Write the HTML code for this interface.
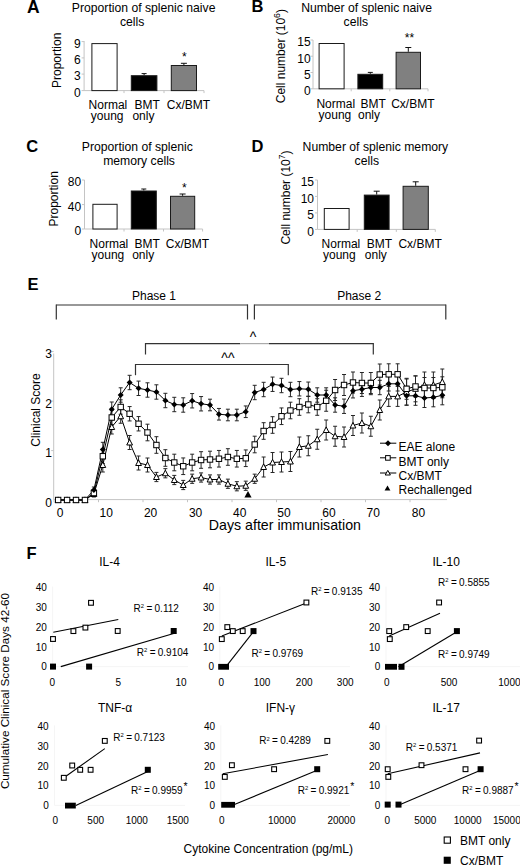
<!DOCTYPE html>
<html><head><meta charset="utf-8"><style>
html,body{margin:0;padding:0;background:#fff;width:520px;height:865px;overflow:hidden}
svg{display:block;font-family:"Liberation Sans", sans-serif}
</style></head><body>
<svg width="520" height="865" viewBox="0 0 520 865">
<rect width="520" height="865" fill="#fff"/>
<text x="27.0" y="12.6" font-size="17.5" text-anchor="start" font-weight="bold" fill="#000" >A</text>
<text x="251.6" y="12.2" font-size="16.5" text-anchor="start" font-weight="bold" fill="#000" >B</text>
<text x="26.2" y="152.4" font-size="16.5" text-anchor="start" font-weight="bold" fill="#000" >C</text>
<text x="251.6" y="152.3" font-size="16.5" text-anchor="start" font-weight="bold" fill="#000" >D</text>
<text x="27.4" y="289.6" font-size="16.5" text-anchor="start" font-weight="bold" fill="#000" >E</text>
<text x="26.5" y="559.4" font-size="16.5" text-anchor="start" font-weight="bold" fill="#000" >F</text>
<text x="71.8" y="12.2" font-size="12.2" text-anchor="start" font-weight="normal" fill="#000" >Proportion of splenic naive</text>
<text x="120.0" y="26.2" font-size="12.2" text-anchor="start" font-weight="normal" fill="#000" >cells</text>
<text transform="translate(61.2,60.3) rotate(-90)" font-size="12" text-anchor="middle">Proportion</text>
<line x1="84.1" y1="41.0" x2="84.1" y2="90.6" stroke="#c4c4c4" stroke-width="1"/>
<line x1="84.1" y1="90.6" x2="204.0" y2="90.6" stroke="#c4c4c4" stroke-width="1"/>
<line x1="81.6" y1="41.6" x2="84.1" y2="41.6" stroke="#c4c4c4" stroke-width="1"/>
<text x="80.6" y="47.9" font-size="12" text-anchor="end" font-weight="normal" fill="#000" >9</text>
<line x1="81.6" y1="57.9" x2="84.1" y2="57.9" stroke="#c4c4c4" stroke-width="1"/>
<text x="80.6" y="64.2" font-size="12" text-anchor="end" font-weight="normal" fill="#000" >6</text>
<line x1="81.6" y1="74.1" x2="84.1" y2="74.1" stroke="#c4c4c4" stroke-width="1"/>
<text x="80.6" y="80.39999999999999" font-size="12" text-anchor="end" font-weight="normal" fill="#000" >3</text>
<line x1="81.6" y1="90.6" x2="84.1" y2="90.6" stroke="#c4c4c4" stroke-width="1"/>
<text x="80.6" y="96.89999999999999" font-size="12" text-anchor="end" font-weight="normal" fill="#000" >0</text>
<rect x="91.9" y="43.6" width="25.19999999999999" height="46.99999999999999" fill="#fff" stroke="#1a1a1a" stroke-width="1"/>
<line x1="144.10000000000002" y1="73.6" x2="144.10000000000002" y2="75.2" stroke="#111" stroke-width="1"/>
<line x1="141.60000000000002" y1="73.6" x2="146.60000000000002" y2="73.6" stroke="#111" stroke-width="1"/>
<rect x="131.3" y="75.7" width="25.599999999999994" height="14.899999999999991" fill="#000" stroke="#1a1a1a" stroke-width="1"/>
<line x1="183.9" y1="63.3" x2="183.9" y2="65.0" stroke="#111" stroke-width="1"/>
<line x1="180.9" y1="63.3" x2="186.9" y2="63.3" stroke="#111" stroke-width="1"/>
<rect x="171.3" y="65.5" width="25.19999999999999" height="25.099999999999994" fill="#808080" stroke="#1a1a1a" stroke-width="1"/>
<text x="88.6" y="109.3" font-size="12" text-anchor="start" font-weight="normal" fill="#000" >Normal</text>
<text x="90.8" y="120.3" font-size="12" text-anchor="start" font-weight="normal" fill="#000" >young</text>
<text x="134.6" y="109.3" font-size="12" text-anchor="start" font-weight="normal" fill="#000" >BMT</text>
<text x="132.4" y="120.3" font-size="12" text-anchor="start" font-weight="normal" fill="#000" >only</text>
<text x="166.8" y="109.3" font-size="12" text-anchor="start" font-weight="normal" fill="#000" >Cx/BMT</text>
<text x="184.3" y="60.5" font-size="12" text-anchor="middle" font-weight="normal" fill="#000" >*</text>
<text x="301.2" y="11.8" font-size="12.2" text-anchor="start" font-weight="normal" fill="#000" >Number of splenic naive</text>
<text x="343.6" y="25.6" font-size="12.2" text-anchor="start" font-weight="normal" fill="#000" >cells</text>
<text transform="translate(285.0,56.2) rotate(-90)" font-size="12" text-anchor="middle">Cell number (10<tspan font-size="8.6" dy="-4.6">6</tspan><tspan dy="4.6">)</tspan></text>
<line x1="313.0" y1="40.0" x2="313.0" y2="88.8" stroke="#c4c4c4" stroke-width="1"/>
<line x1="313.0" y1="88.8" x2="428.0" y2="88.8" stroke="#c4c4c4" stroke-width="1"/>
<line x1="310.5" y1="40.0" x2="313.0" y2="40.0" stroke="#c4c4c4" stroke-width="1"/>
<text x="310.6" y="46.3" font-size="12" text-anchor="end" font-weight="normal" fill="#000" >15</text>
<line x1="310.5" y1="56.2" x2="313.0" y2="56.2" stroke="#c4c4c4" stroke-width="1"/>
<text x="310.6" y="62.5" font-size="12" text-anchor="end" font-weight="normal" fill="#000" >10</text>
<line x1="310.5" y1="72.5" x2="313.0" y2="72.5" stroke="#c4c4c4" stroke-width="1"/>
<text x="310.6" y="78.8" font-size="12" text-anchor="end" font-weight="normal" fill="#000" >5</text>
<line x1="310.5" y1="88.8" x2="313.0" y2="88.8" stroke="#c4c4c4" stroke-width="1"/>
<text x="310.6" y="95.1" font-size="12" text-anchor="end" font-weight="normal" fill="#000" >0</text>
<rect x="319.1" y="43.5" width="25.0" height="45.3" fill="#fff" stroke="#1a1a1a" stroke-width="1"/>
<line x1="370.29999999999995" y1="72.4" x2="370.29999999999995" y2="73.8" stroke="#111" stroke-width="1"/>
<line x1="367.79999999999995" y1="72.4" x2="372.79999999999995" y2="72.4" stroke="#111" stroke-width="1"/>
<rect x="357.9" y="74.3" width="24.80000000000001" height="14.5" fill="#000" stroke="#1a1a1a" stroke-width="1"/>
<line x1="408.3" y1="47.5" x2="408.3" y2="51.8" stroke="#111" stroke-width="1"/>
<line x1="405.3" y1="47.5" x2="411.3" y2="47.5" stroke="#111" stroke-width="1"/>
<rect x="396.1" y="52.3" width="24.399999999999977" height="36.5" fill="#808080" stroke="#1a1a1a" stroke-width="1"/>
<text x="316.4" y="107.8" font-size="12" text-anchor="start" font-weight="normal" fill="#000" >Normal</text>
<text x="318.6" y="118.8" font-size="12" text-anchor="start" font-weight="normal" fill="#000" >young</text>
<text x="360.4" y="107.8" font-size="12" text-anchor="start" font-weight="normal" fill="#000" >BMT</text>
<text x="358.0" y="118.8" font-size="12" text-anchor="start" font-weight="normal" fill="#000" >only</text>
<text x="391.2" y="107.8" font-size="12" text-anchor="start" font-weight="normal" fill="#000" >Cx/BMT</text>
<text x="409.4" y="42.0" font-size="12" text-anchor="middle" font-weight="normal" fill="#000" >**</text>
<text x="81.8" y="151.0" font-size="12.2" text-anchor="start" font-weight="normal" fill="#000" >Proportion of splenic</text>
<text x="103.2" y="165.0" font-size="12.2" text-anchor="start" font-weight="normal" fill="#000" >memory cells</text>
<text transform="translate(57.8,198.8) rotate(-90)" font-size="12" text-anchor="middle">Proportion</text>
<line x1="84.5" y1="180.0" x2="84.5" y2="229.0" stroke="#c4c4c4" stroke-width="1"/>
<line x1="84.5" y1="229.0" x2="202.6" y2="229.0" stroke="#c4c4c4" stroke-width="1"/>
<line x1="82.0" y1="180.0" x2="84.5" y2="180.0" stroke="#c4c4c4" stroke-width="1"/>
<text x="81.2" y="186.3" font-size="12" text-anchor="end" font-weight="normal" fill="#000" >80</text>
<line x1="82.0" y1="204.6" x2="84.5" y2="204.6" stroke="#c4c4c4" stroke-width="1"/>
<text x="81.2" y="210.9" font-size="12" text-anchor="end" font-weight="normal" fill="#000" >40</text>
<line x1="82.0" y1="229.0" x2="84.5" y2="229.0" stroke="#c4c4c4" stroke-width="1"/>
<text x="81.2" y="235.3" font-size="12" text-anchor="end" font-weight="normal" fill="#000" >0</text>
<rect x="92.9" y="204.3" width="24.19999999999999" height="24.69999999999999" fill="#fff" stroke="#1a1a1a" stroke-width="1"/>
<line x1="143.8" y1="189.0" x2="143.8" y2="190.5" stroke="#111" stroke-width="1"/>
<line x1="141.3" y1="189.0" x2="146.3" y2="189.0" stroke="#111" stroke-width="1"/>
<rect x="131.3" y="191.0" width="25.0" height="38.0" fill="#000" stroke="#1a1a1a" stroke-width="1"/>
<line x1="182.6" y1="194.0" x2="182.6" y2="195.8" stroke="#111" stroke-width="1"/>
<line x1="179.6" y1="194.0" x2="185.6" y2="194.0" stroke="#111" stroke-width="1"/>
<rect x="170.5" y="196.3" width="24.19999999999999" height="32.69999999999999" fill="#808080" stroke="#1a1a1a" stroke-width="1"/>
<text x="89.6" y="248.0" font-size="12" text-anchor="start" font-weight="normal" fill="#000" >Normal</text>
<text x="91.6" y="259.0" font-size="12" text-anchor="start" font-weight="normal" fill="#000" >young</text>
<text x="134.6" y="248.0" font-size="12" text-anchor="start" font-weight="normal" fill="#000" >BMT</text>
<text x="132.2" y="259.0" font-size="12" text-anchor="start" font-weight="normal" fill="#000" >only</text>
<text x="165.8" y="248.0" font-size="12" text-anchor="start" font-weight="normal" fill="#000" >Cx/BMT</text>
<text x="184.4" y="191.8" font-size="12" text-anchor="middle" font-weight="normal" fill="#000" >*</text>
<text x="302.6" y="151.0" font-size="12.2" text-anchor="start" font-weight="normal" fill="#000" >Number of splenic memory</text>
<text x="354.6" y="165.0" font-size="12.2" text-anchor="start" font-weight="normal" fill="#000" >cells</text>
<text transform="translate(290.0,197.5) rotate(-90)" font-size="12" text-anchor="middle">Cell number (10<tspan font-size="8.6" dy="-4.6">7</tspan><tspan dy="4.6">)</tspan></text>
<line x1="317.5" y1="180.0" x2="317.5" y2="229.4" stroke="#c4c4c4" stroke-width="1"/>
<line x1="317.5" y1="229.4" x2="435.3" y2="229.4" stroke="#c4c4c4" stroke-width="1"/>
<line x1="315.0" y1="180.0" x2="317.5" y2="180.0" stroke="#c4c4c4" stroke-width="1"/>
<text x="314.0" y="186.3" font-size="12" text-anchor="end" font-weight="normal" fill="#000" >15</text>
<line x1="315.0" y1="196.4" x2="317.5" y2="196.4" stroke="#c4c4c4" stroke-width="1"/>
<text x="314.0" y="202.70000000000002" font-size="12" text-anchor="end" font-weight="normal" fill="#000" >10</text>
<line x1="315.0" y1="212.9" x2="317.5" y2="212.9" stroke="#c4c4c4" stroke-width="1"/>
<text x="314.0" y="219.20000000000002" font-size="12" text-anchor="end" font-weight="normal" fill="#000" >5</text>
<line x1="315.0" y1="229.4" x2="317.5" y2="229.4" stroke="#c4c4c4" stroke-width="1"/>
<text x="314.0" y="235.70000000000002" font-size="12" text-anchor="end" font-weight="normal" fill="#000" >0</text>
<rect x="324.3" y="208.5" width="24.80000000000001" height="20.900000000000006" fill="#fff" stroke="#1a1a1a" stroke-width="1"/>
<line x1="376.70000000000005" y1="191.2" x2="376.70000000000005" y2="194.6" stroke="#111" stroke-width="1"/>
<line x1="373.70000000000005" y1="191.2" x2="379.70000000000005" y2="191.2" stroke="#111" stroke-width="1"/>
<rect x="364.3" y="195.1" width="24.80000000000001" height="34.30000000000001" fill="#000" stroke="#1a1a1a" stroke-width="1"/>
<line x1="415.70000000000005" y1="181.8" x2="415.70000000000005" y2="185.8" stroke="#111" stroke-width="1"/>
<line x1="412.70000000000005" y1="181.8" x2="418.70000000000005" y2="181.8" stroke="#111" stroke-width="1"/>
<rect x="403.1" y="186.3" width="25.19999999999999" height="43.099999999999994" fill="#808080" stroke="#1a1a1a" stroke-width="1"/>
<text x="321.6" y="248.0" font-size="12" text-anchor="start" font-weight="normal" fill="#000" >Normal</text>
<text x="323.0" y="258.8" font-size="12" text-anchor="start" font-weight="normal" fill="#000" >young</text>
<text x="366.8" y="248.0" font-size="12" text-anchor="start" font-weight="normal" fill="#000" >BMT</text>
<text x="364.8" y="258.8" font-size="12" text-anchor="start" font-weight="normal" fill="#000" >only</text>
<text x="398.4" y="248.0" font-size="12" text-anchor="start" font-weight="normal" fill="#000" >Cx/BMT</text>
<line x1="124.0" y1="90.6" x2="124.0" y2="93.1" stroke="#c4c4c4" stroke-width="1"/>
<line x1="164.0" y1="90.6" x2="164.0" y2="93.1" stroke="#c4c4c4" stroke-width="1"/>
<line x1="204.0" y1="90.6" x2="204.0" y2="93.1" stroke="#c4c4c4" stroke-width="1"/>
<line x1="351.2" y1="88.8" x2="351.2" y2="91.3" stroke="#c4c4c4" stroke-width="1"/>
<line x1="389.8" y1="88.8" x2="389.8" y2="91.3" stroke="#c4c4c4" stroke-width="1"/>
<line x1="428.0" y1="88.8" x2="428.0" y2="91.3" stroke="#c4c4c4" stroke-width="1"/>
<line x1="124.0" y1="229.0" x2="124.0" y2="231.5" stroke="#c4c4c4" stroke-width="1"/>
<line x1="163.5" y1="229.0" x2="163.5" y2="231.5" stroke="#c4c4c4" stroke-width="1"/>
<line x1="202.6" y1="229.0" x2="202.6" y2="231.5" stroke="#c4c4c4" stroke-width="1"/>
<line x1="357.2" y1="229.4" x2="357.2" y2="231.9" stroke="#c4c4c4" stroke-width="1"/>
<line x1="396.3" y1="229.4" x2="396.3" y2="231.9" stroke="#c4c4c4" stroke-width="1"/>
<line x1="435.3" y1="229.4" x2="435.3" y2="231.9" stroke="#c4c4c4" stroke-width="1"/>
<line x1="56.3" y1="305" x2="247.5" y2="305" stroke="#333" stroke-width="1.2"/>
<line x1="56.3" y1="304.4" x2="56.3" y2="319.5" stroke="#333" stroke-width="1.2"/>
<line x1="247.5" y1="304.4" x2="247.5" y2="319.5" stroke="#333" stroke-width="1.2"/>
<line x1="254.4" y1="305" x2="445.8" y2="305" stroke="#333" stroke-width="1.2"/>
<line x1="254.4" y1="304.4" x2="254.4" y2="319.5" stroke="#333" stroke-width="1.2"/>
<line x1="445.8" y1="304.4" x2="445.8" y2="319.5" stroke="#333" stroke-width="1.2"/>
<text x="132.0" y="300.0" font-size="12" text-anchor="start" font-weight="normal" fill="#000" >Phase 1</text>
<text x="337.2" y="300.0" font-size="12" text-anchor="start" font-weight="normal" fill="#000" >Phase 2</text>
<line x1="145.5" y1="343.6" x2="240.2" y2="343.6" stroke="#333" stroke-width="1.2"/>
<line x1="240.2" y1="343.6" x2="269.0" y2="343.6" stroke="#aaa" stroke-width="1.2"/>
<line x1="269.0" y1="343.6" x2="373.3" y2="343.6" stroke="#333" stroke-width="1.2"/>
<line x1="145.5" y1="343.0" x2="145.5" y2="354.5" stroke="#333" stroke-width="1.2"/>
<line x1="373.3" y1="343.0" x2="373.3" y2="354.5" stroke="#333" stroke-width="1.2"/>
<text x="253.0" y="342.0" font-size="14" text-anchor="middle" font-weight="normal" fill="#000" >^</text>
<line x1="135.5" y1="364.5" x2="288.3" y2="364.5" stroke="#333" stroke-width="1.2"/>
<line x1="135.5" y1="364.0" x2="135.5" y2="375.2" stroke="#333" stroke-width="1.2"/>
<line x1="288.3" y1="364.0" x2="288.3" y2="375.2" stroke="#333" stroke-width="1.2"/>
<text x="227.9" y="362.8" font-size="14" text-anchor="middle" font-weight="normal" fill="#000" >^^</text>
<line x1="53.7" y1="353.5" x2="53.7" y2="499.6" stroke="#c4c4c4" stroke-width="1"/>
<line x1="53.7" y1="499.6" x2="447.0" y2="499.6" stroke="#c4c4c4" stroke-width="1"/>
<line x1="54.0" y1="499.6" x2="54.0" y2="502.2" stroke="#c4c4c4" stroke-width="1"/>
<line x1="98.5" y1="499.6" x2="98.5" y2="502.2" stroke="#c4c4c4" stroke-width="1"/>
<line x1="143.0" y1="499.6" x2="143.0" y2="502.2" stroke="#c4c4c4" stroke-width="1"/>
<line x1="187.5" y1="499.6" x2="187.5" y2="502.2" stroke="#c4c4c4" stroke-width="1"/>
<line x1="232.0" y1="499.6" x2="232.0" y2="502.2" stroke="#c4c4c4" stroke-width="1"/>
<line x1="276.5" y1="499.6" x2="276.5" y2="502.2" stroke="#c4c4c4" stroke-width="1"/>
<line x1="321.0" y1="499.6" x2="321.0" y2="502.2" stroke="#c4c4c4" stroke-width="1"/>
<line x1="365.5" y1="499.6" x2="365.5" y2="502.2" stroke="#c4c4c4" stroke-width="1"/>
<line x1="410.0" y1="499.6" x2="410.0" y2="502.2" stroke="#c4c4c4" stroke-width="1"/>
<line x1="51.2" y1="351.6" x2="53.7" y2="351.6" stroke="#c4c4c4" stroke-width="1"/>
<line x1="51.2" y1="401.1" x2="53.7" y2="401.1" stroke="#c4c4c4" stroke-width="1"/>
<line x1="51.2" y1="450.6" x2="53.7" y2="450.6" stroke="#c4c4c4" stroke-width="1"/>
<text x="52.0" y="357.90000000000003" font-size="12" text-anchor="end" font-weight="normal" fill="#000" >3</text>
<text x="52.0" y="407.90000000000003" font-size="12" text-anchor="end" font-weight="normal" fill="#000" >2</text>
<text x="52.0" y="456.90000000000003" font-size="12" text-anchor="end" font-weight="normal" fill="#000" >1</text>
<text x="52.0" y="506.90000000000003" font-size="12" text-anchor="end" font-weight="normal" fill="#000" >0</text>
<text x="60.0" y="517.3" font-size="12" text-anchor="middle" font-weight="normal" fill="#000" >0</text>
<text x="106.3" y="517.3" font-size="12" text-anchor="middle" font-weight="normal" fill="#000" >10</text>
<text x="150.6" y="517.3" font-size="12" text-anchor="middle" font-weight="normal" fill="#000" >20</text>
<text x="195.6" y="517.3" font-size="12" text-anchor="middle" font-weight="normal" fill="#000" >30</text>
<text x="239.8" y="517.3" font-size="12" text-anchor="middle" font-weight="normal" fill="#000" >40</text>
<text x="284.0" y="517.3" font-size="12" text-anchor="middle" font-weight="normal" fill="#000" >50</text>
<text x="329.0" y="517.3" font-size="12" text-anchor="middle" font-weight="normal" fill="#000" >60</text>
<text x="373.2" y="517.3" font-size="12" text-anchor="middle" font-weight="normal" fill="#000" >70</text>
<text x="418.4" y="517.3" font-size="12" text-anchor="middle" font-weight="normal" fill="#000" >80</text>
<text transform="translate(40.0,410.0) rotate(-90)" font-size="12" text-anchor="middle">Clinical Score</text>
<text x="284.9" y="530.0" font-size="14.2" text-anchor="middle" font-weight="normal" fill="#000" >Days after immunisation</text>
<path d="M93.89,487.00V493.00M91.89,487.00h4M91.89,493.00h4M102.82,442.30V456.70M100.82,442.30h4M100.82,456.70h4M111.75,402.00V416.40M109.75,402.00h4M109.75,416.40h4M120.69,387.80V402.20M118.69,387.80h4M118.69,402.20h4M129.62,375.30V389.70M127.62,375.30h4M127.62,389.70h4M138.56,381.10V395.50M136.56,381.10h4M136.56,395.50h4M147.49,382.80V397.20M145.49,382.80h4M145.49,397.20h4M156.42,384.80V399.20M154.42,384.80h4M154.42,399.20h4M165.36,393.30V407.70M163.36,393.30h4M163.36,407.70h4M174.29,397.30V411.70M172.29,397.30h4M172.29,411.70h4M183.23,397.80V412.20M181.23,397.80h4M181.23,412.20h4M192.16,393.55V407.95M190.16,393.55h4M190.16,407.95h4M201.09,396.55V410.95M199.09,396.55h4M199.09,410.95h4M210.03,399.20V410.80M208.03,399.20h4M208.03,410.80h4M218.96,408.45V420.05M216.96,408.45h4M216.96,420.05h4M227.90,409.20V420.80M225.90,409.20h4M225.90,420.80h4M236.83,409.20V420.80M234.83,409.20h4M234.83,420.80h4M245.76,405.95V417.55M243.76,405.95h4M243.76,417.55h4M254.70,385.30V399.70M252.70,385.30h4M252.70,399.70h4M263.63,382.30V396.70M261.63,382.30h4M261.63,396.70h4M272.57,377.05V391.45M270.57,377.05h4M270.57,391.45h4M281.50,378.30V392.70M279.50,378.30h4M279.50,392.70h4M290.43,382.30V396.70M288.43,382.30h4M288.43,396.70h4M299.37,381.55V395.95M297.37,381.55h4M297.37,395.95h4M308.30,382.05V396.45M306.30,382.05h4M306.30,396.45h4M317.24,387.80V402.20M315.24,387.80h4M315.24,402.20h4M326.17,387.80V402.20M324.17,387.80h4M324.17,402.20h4M335.10,397.80V412.20M333.10,397.80h4M333.10,412.20h4M344.04,399.05V413.45M342.04,399.05h4M342.04,413.45h4M352.97,383.55V397.95M350.97,383.55h4M350.97,397.95h4M361.91,382.05V396.45M359.91,382.05h4M359.91,396.45h4M370.84,380.30V394.70M368.84,380.30h4M368.84,394.70h4M379.77,380.30V394.70M377.77,380.30h4M377.77,394.70h4M388.71,376.60V391.00M386.71,376.60h4M386.71,391.00h4M397.64,376.60V391.00M395.64,376.60h4M395.64,391.00h4M406.58,386.30V405.30M404.58,386.30h4M404.58,405.30h4M415.51,386.30V405.30M413.51,386.30h4M413.51,405.30h4M424.44,388.50V407.50M422.44,388.50h4M422.44,407.50h4M433.38,387.80V406.80M431.38,387.80h4M431.38,406.80h4M442.31,385.80V404.80M440.31,385.80h4M440.31,404.80h4" stroke="#262626" stroke-width="1" fill="none"/>
<path d="M93.89,490.00V496.00M91.89,490.00h4M91.89,496.00h4M102.82,449.05V463.45M100.82,449.05h4M100.82,463.45h4M111.75,410.30V424.70M109.75,410.30h4M109.75,424.70h4M120.69,399.80V414.20M118.69,399.80h4M118.69,414.20h4M129.62,406.55V420.95M127.62,406.55h4M127.62,420.95h4M138.56,416.55V430.95M136.56,416.55h4M136.56,430.95h4M147.49,424.20V440.80M145.49,424.20h4M145.49,440.80h4M156.42,436.70V453.30M154.42,436.70h4M154.42,453.30h4M165.36,449.70V466.30M163.36,449.70h4M163.36,466.30h4M174.29,454.20V470.80M172.29,454.20h4M172.29,470.80h4M183.23,457.95V474.55M181.23,457.95h4M181.23,474.55h4M192.16,454.20V470.80M190.16,454.20h4M190.16,470.80h4M201.09,451.70V468.30M199.09,451.70h4M199.09,468.30h4M210.03,451.20V467.80M208.03,451.20h4M208.03,467.80h4M218.96,450.45V467.05M216.96,450.45h4M216.96,467.05h4M227.90,448.70V465.30M225.90,448.70h4M225.90,465.30h4M236.83,450.45V467.05M234.83,450.45h4M234.83,467.05h4M245.76,449.95V466.55M243.76,449.95h4M243.76,466.55h4M254.70,436.20V452.80M252.70,436.20h4M252.70,452.80h4M263.63,422.70V439.30M261.63,422.70h4M261.63,439.30h4M272.57,416.70V433.30M270.57,416.70h4M270.57,433.30h4M281.50,407.95V424.55M279.50,407.95h4M279.50,424.55h4M290.43,402.20V418.80M288.43,402.20h4M288.43,418.80h4M299.37,398.70V415.30M297.37,398.70h4M297.37,415.30h4M308.30,396.20V412.80M306.30,396.20h4M306.30,412.80h4M317.24,398.70V415.30M315.24,398.70h4M315.24,415.30h4M326.17,390.25V411.25M324.17,390.25h4M324.17,411.25h4M335.10,379.50V400.50M333.10,379.50h4M333.10,400.50h4M344.04,374.50V395.50M342.04,374.50h4M342.04,395.50h4M352.97,372.00V393.00M350.97,372.00h4M350.97,393.00h4M361.91,372.50V393.50M359.91,372.50h4M359.91,393.50h4M370.84,372.50V393.50M368.84,372.50h4M368.84,393.50h4M379.77,364.00V385.00M377.77,364.00h4M377.77,385.00h4M388.71,363.80V384.80M386.71,363.80h4M386.71,384.80h4M397.64,363.80V384.80M395.64,363.80h4M395.64,384.80h4M406.58,378.30V399.30M404.58,378.30h4M404.58,399.30h4M415.51,376.00V397.00M413.51,376.00h4M413.51,397.00h4M424.44,377.50V398.50M422.44,377.50h4M422.44,398.50h4M433.38,377.50V398.50M431.38,377.50h4M431.38,398.50h4M442.31,376.80V397.80M440.31,376.80h4M440.31,397.80h4" stroke="#262626" stroke-width="1" fill="none"/>
<path d="M93.89,491.00V497.00M91.89,491.00h4M91.89,497.00h4M102.82,458.00V472.00M100.82,458.00h4M100.82,472.00h4M111.75,420.00V434.00M109.75,420.00h4M109.75,434.00h4M120.69,409.25V423.25M118.69,409.25h4M118.69,423.25h4M129.62,435.50V449.50M127.62,435.50h4M127.62,449.50h4M138.56,456.00V470.00M136.56,456.00h4M136.56,470.00h4M147.49,458.00V472.00M145.49,458.00h4M145.49,472.00h4M156.42,472.40V481.60M154.42,472.40h4M154.42,481.60h4M165.36,468.65V477.85M163.36,468.65h4M163.36,477.85h4M174.29,475.40V484.60M172.29,475.40h4M172.29,484.60h4M183.23,480.40V489.60M181.23,480.40h4M181.23,489.60h4M192.16,474.15V483.35M190.16,474.15h4M190.16,483.35h4M201.09,472.90V482.10M199.09,472.90h4M199.09,482.10h4M210.03,474.90V484.10M208.03,474.90h4M208.03,484.10h4M218.96,474.90V484.10M216.96,474.90h4M216.96,484.10h4M227.90,479.15V488.35M225.90,479.15h4M225.90,488.35h4M236.83,481.65V490.85M234.83,481.65h4M234.83,490.85h4M245.76,481.15V490.35M243.76,481.15h4M243.76,490.35h4M254.70,474.15V483.35M252.70,474.15h4M252.70,483.35h4M263.63,457.00V477.00M261.63,457.00h4M261.63,477.00h4M272.57,452.50V472.50M270.57,452.50h4M270.57,472.50h4M281.50,452.00V472.00M279.50,452.00h4M279.50,472.00h4M290.43,451.50V471.50M288.43,451.50h4M288.43,471.50h4M299.37,437.00V457.00M297.37,437.00h4M297.37,457.00h4M308.30,435.75V455.75M306.30,435.75h4M306.30,455.75h4M317.24,429.25V449.25M315.24,429.25h4M315.24,449.25h4M326.17,420.00V440.00M324.17,420.00h4M324.17,440.00h4M335.10,426.25V446.25M333.10,426.25h4M333.10,446.25h4M344.04,427.00V447.00M342.04,427.00h4M342.04,447.00h4M352.97,415.50V435.50M350.97,415.50h4M350.97,435.50h4M361.91,413.00V433.00M359.91,413.00h4M359.91,433.00h4M370.84,416.25V436.25M368.84,416.25h4M368.84,436.25h4M379.77,400.00V420.00M377.77,400.00h4M377.77,420.00h4M388.71,386.40V406.40M386.71,386.40h4M386.71,406.40h4M397.64,386.40V406.40M395.64,386.40h4M395.64,406.40h4M406.58,379.00V405.00M404.58,379.00h4M404.58,405.00h4M415.51,375.80V401.80M413.51,375.80h4M413.51,401.80h4M424.44,372.00V398.00M422.44,372.00h4M422.44,398.00h4M433.38,372.00V398.00M431.38,372.00h4M431.38,398.00h4M442.31,369.00V395.00M440.31,369.00h4M440.31,395.00h4" stroke="#262626" stroke-width="1" fill="none"/>
<polyline points="58.15,500.00 67.08,500.00 76.02,500.00 84.95,500.00 93.89,494.00 102.82,465.00 111.75,427.00 120.69,416.25 129.62,442.50 138.56,463.00 147.49,465.00 156.42,477.00 165.36,473.25 174.29,480.00 183.23,485.00 192.16,478.75 201.09,477.50 210.03,479.50 218.96,479.50 227.90,483.75 236.83,486.25 245.76,485.75 254.70,478.75 263.63,467.00 272.57,462.50 281.50,462.00 290.43,461.50 299.37,447.00 308.30,445.75 317.24,439.25 326.17,430.00 335.10,436.25 344.04,437.00 352.97,425.50 361.91,423.00 370.84,426.25 379.77,410.00 388.71,396.40 397.64,396.40 406.58,392.00 415.51,388.80 424.44,385.00 433.38,385.00 442.31,382.00" fill="none" stroke="#000" stroke-width="1"/>
<polyline points="58.15,500.00 67.08,500.00 76.02,500.00 84.95,500.00 93.89,493.00 102.82,456.25 111.75,417.50 120.69,407.00 129.62,413.75 138.56,423.75 147.49,432.50 156.42,445.00 165.36,458.00 174.29,462.50 183.23,466.25 192.16,462.50 201.09,460.00 210.03,459.50 218.96,458.75 227.90,457.00 236.83,458.75 245.76,458.25 254.70,444.50 263.63,431.00 272.57,425.00 281.50,416.25 290.43,410.50 299.37,407.00 308.30,404.50 317.24,407.00 326.17,400.75 335.10,390.00 344.04,385.00 352.97,382.50 361.91,383.00 370.84,383.00 379.77,374.50 388.71,374.30 397.64,374.30 406.58,388.80 415.51,386.50 424.44,388.00 433.38,388.00 442.31,387.30" fill="none" stroke="#000" stroke-width="1"/>
<polyline points="58.15,500.00 67.08,500.00 76.02,500.00 84.95,500.00 93.89,490.00 102.82,449.50 111.75,409.20 120.69,395.00 129.62,382.50 138.56,388.30 147.49,390.00 156.42,392.00 165.36,400.50 174.29,404.50 183.23,405.00 192.16,400.75 201.09,403.75 210.03,405.00 218.96,414.25 227.90,415.00 236.83,415.00 245.76,411.75 254.70,392.50 263.63,389.50 272.57,384.25 281.50,385.50 290.43,389.50 299.37,388.75 308.30,389.25 317.24,395.00 326.17,395.00 335.10,405.00 344.04,406.25 352.97,390.75 361.91,389.25 370.84,387.50 379.77,387.50 388.71,383.80 397.64,383.80 406.58,395.80 415.51,395.80 424.44,398.00 433.38,397.30 442.31,395.30" fill="none" stroke="#000" stroke-width="1"/>
<path d="M58.15,496.90L61.05,502.50H55.25Z" fill="#fff" stroke="#000" stroke-width="1"/>
<path d="M67.08,496.90L69.98,502.50H64.18Z" fill="#fff" stroke="#000" stroke-width="1"/>
<path d="M76.02,496.90L78.92,502.50H73.12Z" fill="#fff" stroke="#000" stroke-width="1"/>
<path d="M84.95,496.90L87.85,502.50H82.05Z" fill="#fff" stroke="#000" stroke-width="1"/>
<path d="M93.89,490.90L96.79,496.50H90.99Z" fill="#fff" stroke="#000" stroke-width="1"/>
<path d="M102.82,461.90L105.72,467.50H99.92Z" fill="#fff" stroke="#000" stroke-width="1"/>
<path d="M111.75,423.90L114.65,429.50H108.85Z" fill="#fff" stroke="#000" stroke-width="1"/>
<path d="M120.69,413.15L123.59,418.75H117.79Z" fill="#fff" stroke="#000" stroke-width="1"/>
<path d="M129.62,439.40L132.52,445.00H126.72Z" fill="#fff" stroke="#000" stroke-width="1"/>
<path d="M138.56,459.90L141.46,465.50H135.66Z" fill="#fff" stroke="#000" stroke-width="1"/>
<path d="M147.49,461.90L150.39,467.50H144.59Z" fill="#fff" stroke="#000" stroke-width="1"/>
<path d="M156.42,473.90L159.32,479.50H153.52Z" fill="#fff" stroke="#000" stroke-width="1"/>
<path d="M165.36,470.15L168.26,475.75H162.46Z" fill="#fff" stroke="#000" stroke-width="1"/>
<path d="M174.29,476.90L177.19,482.50H171.39Z" fill="#fff" stroke="#000" stroke-width="1"/>
<path d="M183.23,481.90L186.13,487.50H180.33Z" fill="#fff" stroke="#000" stroke-width="1"/>
<path d="M192.16,475.65L195.06,481.25H189.26Z" fill="#fff" stroke="#000" stroke-width="1"/>
<path d="M201.09,474.40L203.99,480.00H198.19Z" fill="#fff" stroke="#000" stroke-width="1"/>
<path d="M210.03,476.40L212.93,482.00H207.13Z" fill="#fff" stroke="#000" stroke-width="1"/>
<path d="M218.96,476.40L221.86,482.00H216.06Z" fill="#fff" stroke="#000" stroke-width="1"/>
<path d="M227.90,480.65L230.80,486.25H225.00Z" fill="#fff" stroke="#000" stroke-width="1"/>
<path d="M236.83,483.15L239.73,488.75H233.93Z" fill="#fff" stroke="#000" stroke-width="1"/>
<path d="M245.76,482.65L248.66,488.25H242.86Z" fill="#fff" stroke="#000" stroke-width="1"/>
<path d="M254.70,475.65L257.60,481.25H251.80Z" fill="#fff" stroke="#000" stroke-width="1"/>
<path d="M263.63,463.90L266.53,469.50H260.73Z" fill="#fff" stroke="#000" stroke-width="1"/>
<path d="M272.57,459.40L275.47,465.00H269.67Z" fill="#fff" stroke="#000" stroke-width="1"/>
<path d="M281.50,458.90L284.40,464.50H278.60Z" fill="#fff" stroke="#000" stroke-width="1"/>
<path d="M290.43,458.40L293.33,464.00H287.53Z" fill="#fff" stroke="#000" stroke-width="1"/>
<path d="M299.37,443.90L302.27,449.50H296.47Z" fill="#fff" stroke="#000" stroke-width="1"/>
<path d="M308.30,442.65L311.20,448.25H305.40Z" fill="#fff" stroke="#000" stroke-width="1"/>
<path d="M317.24,436.15L320.14,441.75H314.34Z" fill="#fff" stroke="#000" stroke-width="1"/>
<path d="M326.17,426.90L329.07,432.50H323.27Z" fill="#fff" stroke="#000" stroke-width="1"/>
<path d="M335.10,433.15L338.00,438.75H332.20Z" fill="#fff" stroke="#000" stroke-width="1"/>
<path d="M344.04,433.90L346.94,439.50H341.14Z" fill="#fff" stroke="#000" stroke-width="1"/>
<path d="M352.97,422.40L355.87,428.00H350.07Z" fill="#fff" stroke="#000" stroke-width="1"/>
<path d="M361.91,419.90L364.81,425.50H359.01Z" fill="#fff" stroke="#000" stroke-width="1"/>
<path d="M370.84,423.15L373.74,428.75H367.94Z" fill="#fff" stroke="#000" stroke-width="1"/>
<path d="M379.77,406.90L382.67,412.50H376.87Z" fill="#fff" stroke="#000" stroke-width="1"/>
<path d="M388.71,393.30L391.61,398.90H385.81Z" fill="#fff" stroke="#000" stroke-width="1"/>
<path d="M397.64,393.30L400.54,398.90H394.74Z" fill="#fff" stroke="#000" stroke-width="1"/>
<path d="M406.58,388.90L409.48,394.50H403.68Z" fill="#fff" stroke="#000" stroke-width="1"/>
<path d="M415.51,385.70L418.41,391.30H412.61Z" fill="#fff" stroke="#000" stroke-width="1"/>
<path d="M424.44,381.90L427.34,387.50H421.54Z" fill="#fff" stroke="#000" stroke-width="1"/>
<path d="M433.38,381.90L436.28,387.50H430.48Z" fill="#fff" stroke="#000" stroke-width="1"/>
<path d="M442.31,378.90L445.21,384.50H439.41Z" fill="#fff" stroke="#000" stroke-width="1"/>
<rect x="55.449999999999996" y="497.3" width="5.4" height="5.4" fill="#fff" stroke="#000" stroke-width="1"/>
<rect x="64.384" y="497.3" width="5.4" height="5.4" fill="#fff" stroke="#000" stroke-width="1"/>
<rect x="73.318" y="497.3" width="5.4" height="5.4" fill="#fff" stroke="#000" stroke-width="1"/>
<rect x="82.252" y="497.3" width="5.4" height="5.4" fill="#fff" stroke="#000" stroke-width="1"/>
<rect x="91.18599999999999" y="490.3" width="5.4" height="5.4" fill="#fff" stroke="#000" stroke-width="1"/>
<rect x="100.11999999999999" y="453.55" width="5.4" height="5.4" fill="#fff" stroke="#000" stroke-width="1"/>
<rect x="109.05399999999999" y="414.8" width="5.4" height="5.4" fill="#fff" stroke="#000" stroke-width="1"/>
<rect x="117.98799999999999" y="404.3" width="5.4" height="5.4" fill="#fff" stroke="#000" stroke-width="1"/>
<rect x="126.92199999999998" y="411.05" width="5.4" height="5.4" fill="#fff" stroke="#000" stroke-width="1"/>
<rect x="135.856" y="421.05" width="5.4" height="5.4" fill="#fff" stroke="#000" stroke-width="1"/>
<rect x="144.79" y="429.8" width="5.4" height="5.4" fill="#fff" stroke="#000" stroke-width="1"/>
<rect x="153.724" y="442.3" width="5.4" height="5.4" fill="#fff" stroke="#000" stroke-width="1"/>
<rect x="162.65800000000002" y="455.3" width="5.4" height="5.4" fill="#fff" stroke="#000" stroke-width="1"/>
<rect x="171.592" y="459.8" width="5.4" height="5.4" fill="#fff" stroke="#000" stroke-width="1"/>
<rect x="180.526" y="463.55" width="5.4" height="5.4" fill="#fff" stroke="#000" stroke-width="1"/>
<rect x="189.46" y="459.8" width="5.4" height="5.4" fill="#fff" stroke="#000" stroke-width="1"/>
<rect x="198.394" y="457.3" width="5.4" height="5.4" fill="#fff" stroke="#000" stroke-width="1"/>
<rect x="207.328" y="456.8" width="5.4" height="5.4" fill="#fff" stroke="#000" stroke-width="1"/>
<rect x="216.262" y="456.05" width="5.4" height="5.4" fill="#fff" stroke="#000" stroke-width="1"/>
<rect x="225.196" y="454.3" width="5.4" height="5.4" fill="#fff" stroke="#000" stroke-width="1"/>
<rect x="234.13" y="456.05" width="5.4" height="5.4" fill="#fff" stroke="#000" stroke-width="1"/>
<rect x="243.064" y="455.55" width="5.4" height="5.4" fill="#fff" stroke="#000" stroke-width="1"/>
<rect x="251.998" y="441.8" width="5.4" height="5.4" fill="#fff" stroke="#000" stroke-width="1"/>
<rect x="260.93199999999996" y="428.3" width="5.4" height="5.4" fill="#fff" stroke="#000" stroke-width="1"/>
<rect x="269.866" y="422.3" width="5.4" height="5.4" fill="#fff" stroke="#000" stroke-width="1"/>
<rect x="278.8" y="413.55" width="5.4" height="5.4" fill="#fff" stroke="#000" stroke-width="1"/>
<rect x="287.734" y="407.8" width="5.4" height="5.4" fill="#fff" stroke="#000" stroke-width="1"/>
<rect x="296.668" y="404.3" width="5.4" height="5.4" fill="#fff" stroke="#000" stroke-width="1"/>
<rect x="305.602" y="401.8" width="5.4" height="5.4" fill="#fff" stroke="#000" stroke-width="1"/>
<rect x="314.53599999999994" y="404.3" width="5.4" height="5.4" fill="#fff" stroke="#000" stroke-width="1"/>
<rect x="323.46999999999997" y="398.05" width="5.4" height="5.4" fill="#fff" stroke="#000" stroke-width="1"/>
<rect x="332.40399999999994" y="387.3" width="5.4" height="5.4" fill="#fff" stroke="#000" stroke-width="1"/>
<rect x="341.33799999999997" y="382.3" width="5.4" height="5.4" fill="#fff" stroke="#000" stroke-width="1"/>
<rect x="350.272" y="379.8" width="5.4" height="5.4" fill="#fff" stroke="#000" stroke-width="1"/>
<rect x="359.20599999999996" y="380.3" width="5.4" height="5.4" fill="#fff" stroke="#000" stroke-width="1"/>
<rect x="368.14" y="380.3" width="5.4" height="5.4" fill="#fff" stroke="#000" stroke-width="1"/>
<rect x="377.07399999999996" y="371.8" width="5.4" height="5.4" fill="#fff" stroke="#000" stroke-width="1"/>
<rect x="386.008" y="371.6" width="5.4" height="5.4" fill="#fff" stroke="#000" stroke-width="1"/>
<rect x="394.94199999999995" y="371.6" width="5.4" height="5.4" fill="#fff" stroke="#000" stroke-width="1"/>
<rect x="403.876" y="386.1" width="5.4" height="5.4" fill="#fff" stroke="#000" stroke-width="1"/>
<rect x="412.80999999999995" y="383.8" width="5.4" height="5.4" fill="#fff" stroke="#000" stroke-width="1"/>
<rect x="421.74399999999997" y="385.3" width="5.4" height="5.4" fill="#fff" stroke="#000" stroke-width="1"/>
<rect x="430.67799999999994" y="385.3" width="5.4" height="5.4" fill="#fff" stroke="#000" stroke-width="1"/>
<rect x="439.61199999999997" y="384.6" width="5.4" height="5.4" fill="#fff" stroke="#000" stroke-width="1"/>
<path d="M93.89,487.00L96.89,490.00L93.89,493.00L90.89,490.00Z" fill="#000"/>
<path d="M102.82,446.50L105.82,449.50L102.82,452.50L99.82,449.50Z" fill="#000"/>
<path d="M111.75,406.20L114.75,409.20L111.75,412.20L108.75,409.20Z" fill="#000"/>
<path d="M120.69,392.00L123.69,395.00L120.69,398.00L117.69,395.00Z" fill="#000"/>
<path d="M129.62,379.50L132.62,382.50L129.62,385.50L126.62,382.50Z" fill="#000"/>
<path d="M138.56,385.30L141.56,388.30L138.56,391.30L135.56,388.30Z" fill="#000"/>
<path d="M147.49,387.00L150.49,390.00L147.49,393.00L144.49,390.00Z" fill="#000"/>
<path d="M156.42,389.00L159.42,392.00L156.42,395.00L153.42,392.00Z" fill="#000"/>
<path d="M165.36,397.50L168.36,400.50L165.36,403.50L162.36,400.50Z" fill="#000"/>
<path d="M174.29,401.50L177.29,404.50L174.29,407.50L171.29,404.50Z" fill="#000"/>
<path d="M183.23,402.00L186.23,405.00L183.23,408.00L180.23,405.00Z" fill="#000"/>
<path d="M192.16,397.75L195.16,400.75L192.16,403.75L189.16,400.75Z" fill="#000"/>
<path d="M201.09,400.75L204.09,403.75L201.09,406.75L198.09,403.75Z" fill="#000"/>
<path d="M210.03,402.00L213.03,405.00L210.03,408.00L207.03,405.00Z" fill="#000"/>
<path d="M218.96,411.25L221.96,414.25L218.96,417.25L215.96,414.25Z" fill="#000"/>
<path d="M227.90,412.00L230.90,415.00L227.90,418.00L224.90,415.00Z" fill="#000"/>
<path d="M236.83,412.00L239.83,415.00L236.83,418.00L233.83,415.00Z" fill="#000"/>
<path d="M245.76,408.75L248.76,411.75L245.76,414.75L242.76,411.75Z" fill="#000"/>
<path d="M254.70,389.50L257.70,392.50L254.70,395.50L251.70,392.50Z" fill="#000"/>
<path d="M263.63,386.50L266.63,389.50L263.63,392.50L260.63,389.50Z" fill="#000"/>
<path d="M272.57,381.25L275.57,384.25L272.57,387.25L269.57,384.25Z" fill="#000"/>
<path d="M281.50,382.50L284.50,385.50L281.50,388.50L278.50,385.50Z" fill="#000"/>
<path d="M290.43,386.50L293.43,389.50L290.43,392.50L287.43,389.50Z" fill="#000"/>
<path d="M299.37,385.75L302.37,388.75L299.37,391.75L296.37,388.75Z" fill="#000"/>
<path d="M308.30,386.25L311.30,389.25L308.30,392.25L305.30,389.25Z" fill="#000"/>
<path d="M317.24,392.00L320.24,395.00L317.24,398.00L314.24,395.00Z" fill="#000"/>
<path d="M326.17,392.00L329.17,395.00L326.17,398.00L323.17,395.00Z" fill="#000"/>
<path d="M335.10,402.00L338.10,405.00L335.10,408.00L332.10,405.00Z" fill="#000"/>
<path d="M344.04,403.25L347.04,406.25L344.04,409.25L341.04,406.25Z" fill="#000"/>
<path d="M352.97,387.75L355.97,390.75L352.97,393.75L349.97,390.75Z" fill="#000"/>
<path d="M361.91,386.25L364.91,389.25L361.91,392.25L358.91,389.25Z" fill="#000"/>
<path d="M370.84,384.50L373.84,387.50L370.84,390.50L367.84,387.50Z" fill="#000"/>
<path d="M379.77,384.50L382.77,387.50L379.77,390.50L376.77,387.50Z" fill="#000"/>
<path d="M388.71,380.80L391.71,383.80L388.71,386.80L385.71,383.80Z" fill="#000"/>
<path d="M397.64,380.80L400.64,383.80L397.64,386.80L394.64,383.80Z" fill="#000"/>
<path d="M406.58,392.80L409.58,395.80L406.58,398.80L403.58,395.80Z" fill="#000"/>
<path d="M415.51,392.80L418.51,395.80L415.51,398.80L412.51,395.80Z" fill="#000"/>
<path d="M424.44,395.00L427.44,398.00L424.44,401.00L421.44,398.00Z" fill="#000"/>
<path d="M433.38,394.30L436.38,397.30L433.38,400.30L430.38,397.30Z" fill="#000"/>
<path d="M442.31,392.30L445.31,395.30L442.31,398.30L439.31,395.30Z" fill="#000"/>
<path d="M248.0,491.0L251.6,497.6H244.4Z" fill="#000"/>
<line x1="380" y1="443.2" x2="396.3" y2="443.2" stroke="#000" stroke-width="1"/>
<path d="M388,440.2L391,443.2L388,446.2L385,443.2Z" fill="#000"/>
<line x1="380" y1="457.8" x2="396.3" y2="457.8" stroke="#000" stroke-width="1"/>
<rect x="385.6" y="455.6" width="4.6" height="4.6" fill="#fff" stroke="#000" stroke-width="1"/>
<line x1="380" y1="473.0" x2="396.3" y2="473.0" stroke="#000" stroke-width="1"/>
<path d="M387.8,470.4L390.4,475.0H385.2Z" fill="#fff" stroke="#000" stroke-width="1"/>
<path d="M387.5,485.6L390.4,490.6H384.6Z" fill="#000"/>
<text x="398.5" y="450.8" font-size="12" text-anchor="start" font-weight="normal" fill="#000" >EAE alone</text>
<text x="398.5" y="465.6" font-size="12" text-anchor="start" font-weight="normal" fill="#000" >BMT only</text>
<text x="398.5" y="480.0" font-size="12" text-anchor="start" font-weight="normal" fill="#000" >Cx/BMT</text>
<text x="398.5" y="494.3" font-size="12" text-anchor="start" font-weight="normal" fill="#000" >Rechallenged</text>
<text transform="translate(8.9,691.0) rotate(-90)" font-size="11.7" text-anchor="middle">Cumulative Clinical Score Days 42-60</text>
<text x="268.3" y="853.3" font-size="12" text-anchor="middle" font-weight="normal" fill="#000" >Cytokine Concentration (pg/mL)</text>
<rect x="444.2" y="837.0" width="6.2" height="6.2" fill="#fff" stroke="#000" stroke-width="1.1"/>
<text x="460.0" y="845.2" font-size="12" text-anchor="start" font-weight="normal" fill="#000" >BMT only</text>
<rect x="443.7" y="856.7" width="7.1" height="7.1" fill="#000" stroke="none" stroke-width="1"/>
<text x="460.0" y="864.6" font-size="12" text-anchor="start" font-weight="normal" fill="#000" >Cx/BMT</text>
<text x="109.5" y="566.3" font-size="12" text-anchor="middle" font-weight="normal" fill="#000" >IL-4</text>
<line x1="52.6" y1="586.6" x2="52.6" y2="666.6" stroke="#f5f5f5" stroke-width="1"/>
<line x1="52.6" y1="666.6" x2="188" y2="666.6" stroke="#f5f5f5" stroke-width="1"/>
<text x="46.800000000000004" y="670.4" font-size="10" text-anchor="end" font-weight="normal" fill="#000" >0</text>
<text x="46.800000000000004" y="650.65" font-size="10" text-anchor="end" font-weight="normal" fill="#000" >10</text>
<text x="46.800000000000004" y="630.9" font-size="10" text-anchor="end" font-weight="normal" fill="#000" >20</text>
<text x="46.800000000000004" y="611.15" font-size="10" text-anchor="end" font-weight="normal" fill="#000" >30</text>
<text x="46.800000000000004" y="591.4" font-size="10" text-anchor="end" font-weight="normal" fill="#000" >40</text>
<text x="52.3" y="685.5" font-size="10" text-anchor="middle" font-weight="normal" fill="#000" >0</text>
<text x="118.3" y="685.5" font-size="10" text-anchor="middle" font-weight="normal" fill="#000" >5</text>
<text x="181.0" y="685.5" font-size="10" text-anchor="middle" font-weight="normal" fill="#000" >10</text>
<line x1="53.3" y1="632.2" x2="118.3" y2="619.5" stroke="#000" stroke-width="1.1"/>
<line x1="60.8" y1="666.6" x2="173.7" y2="633.5" stroke="#000" stroke-width="1.1"/>
<rect x="50.6" y="636.6" width="4.8" height="4.8" fill="#fff" stroke="#000" stroke-width="1.1"/>
<rect x="71.0" y="628.7" width="4.8" height="4.8" fill="#fff" stroke="#000" stroke-width="1.1"/>
<rect x="83.0" y="625.2" width="4.8" height="4.8" fill="#fff" stroke="#000" stroke-width="1.1"/>
<rect x="88.6" y="600.4" width="4.8" height="4.8" fill="#fff" stroke="#000" stroke-width="1.1"/>
<rect x="115.3" y="628.6" width="4.8" height="4.8" fill="#fff" stroke="#000" stroke-width="1.1"/>
<rect x="50.0" y="663.6" width="6" height="6" fill="#000" stroke="none" stroke-width="1"/>
<rect x="86.1" y="663.6" width="6" height="6" fill="#000" stroke="none" stroke-width="1"/>
<rect x="170.7" y="628.0" width="6" height="6" fill="#000" stroke="none" stroke-width="1"/>
<text x="133.6" y="611.6" font-size="10">R<tspan font-size="5.8" dy="-3.9">2</tspan><tspan dy="3.9" dx="-0.4"> =</tspan><tspan dx="-0.5"> 0.112</tspan></text>
<text x="136.8" y="656.2" font-size="10">R<tspan font-size="5.8" dy="-3.9">2</tspan><tspan dy="3.9" dx="-0.4"> =</tspan><tspan dx="-0.5"> 0.9104</tspan></text>
<text x="275.8" y="566.3" font-size="12" text-anchor="middle" font-weight="normal" fill="#000" >IL-5</text>
<line x1="219.8" y1="586.6" x2="219.8" y2="666.6" stroke="#f5f5f5" stroke-width="1"/>
<line x1="219.8" y1="666.6" x2="350" y2="666.6" stroke="#f5f5f5" stroke-width="1"/>
<text x="214.0" y="670.4" font-size="10" text-anchor="end" font-weight="normal" fill="#000" >0</text>
<text x="214.0" y="650.65" font-size="10" text-anchor="end" font-weight="normal" fill="#000" >10</text>
<text x="214.0" y="630.9" font-size="10" text-anchor="end" font-weight="normal" fill="#000" >20</text>
<text x="214.0" y="611.15" font-size="10" text-anchor="end" font-weight="normal" fill="#000" >30</text>
<text x="214.0" y="591.4" font-size="10" text-anchor="end" font-weight="normal" fill="#000" >40</text>
<text x="221.2" y="685.5" font-size="10" text-anchor="middle" font-weight="normal" fill="#000" >0</text>
<text x="262.1" y="685.5" font-size="10" text-anchor="middle" font-weight="normal" fill="#000" >100</text>
<text x="304.2" y="685.5" font-size="10" text-anchor="middle" font-weight="normal" fill="#000" >200</text>
<text x="345.2" y="685.5" font-size="10" text-anchor="middle" font-weight="normal" fill="#000" >300</text>
<line x1="221.8" y1="636.0" x2="306.4" y2="603.1" stroke="#000" stroke-width="1.1"/>
<line x1="225.8" y1="666.8" x2="253.5" y2="631.7" stroke="#000" stroke-width="1.1"/>
<rect x="219.4" y="636.7" width="4.8" height="4.8" fill="#fff" stroke="#000" stroke-width="1.1"/>
<rect x="224.9" y="624.7" width="4.8" height="4.8" fill="#fff" stroke="#000" stroke-width="1.1"/>
<rect x="230.4" y="628.7" width="4.8" height="4.8" fill="#fff" stroke="#000" stroke-width="1.1"/>
<rect x="240.29999999999998" y="628.7" width="4.8" height="4.8" fill="#fff" stroke="#000" stroke-width="1.1"/>
<rect x="304.0" y="600.1" width="4.8" height="4.8" fill="#fff" stroke="#000" stroke-width="1.1"/>
<rect x="250.5" y="628.1" width="6" height="6" fill="#000" stroke="none" stroke-width="1"/>
<rect x="218.2" y="663.9" width="10.800000000000011" height="5.8" fill="#000" stroke="none" stroke-width="1"/>
<text x="310.9" y="595.2" font-size="10">R<tspan font-size="5.8" dy="-3.9">2</tspan><tspan dy="3.9" dx="-0.4"> =</tspan><tspan dx="-0.5"> 0.9135</tspan></text>
<text x="251.5" y="656.7" font-size="10">R<tspan font-size="5.8" dy="-3.9">2</tspan><tspan dy="3.9" dx="-0.4"> =</tspan><tspan dx="-0.5"> 0.9769</tspan></text>
<text x="446.2" y="566.3" font-size="12" text-anchor="middle" font-weight="normal" fill="#000" >IL-10</text>
<line x1="386.0" y1="586.6" x2="386.0" y2="666.6" stroke="#f5f5f5" stroke-width="1"/>
<line x1="386.0" y1="666.6" x2="520" y2="666.6" stroke="#f5f5f5" stroke-width="1"/>
<text x="380.2" y="670.4" font-size="10" text-anchor="end" font-weight="normal" fill="#000" >0</text>
<text x="380.2" y="650.65" font-size="10" text-anchor="end" font-weight="normal" fill="#000" >10</text>
<text x="380.2" y="630.9" font-size="10" text-anchor="end" font-weight="normal" fill="#000" >20</text>
<text x="380.2" y="611.15" font-size="10" text-anchor="end" font-weight="normal" fill="#000" >30</text>
<text x="380.2" y="591.4" font-size="10" text-anchor="end" font-weight="normal" fill="#000" >40</text>
<text x="386.9" y="685.5" font-size="10" text-anchor="middle" font-weight="normal" fill="#000" >0</text>
<text x="449.0" y="685.5" font-size="10" text-anchor="middle" font-weight="normal" fill="#000" >500</text>
<text x="509.4" y="685.5" font-size="10" text-anchor="middle" font-weight="normal" fill="#000" >1000</text>
<line x1="389.2" y1="636.0" x2="440.0" y2="613.2" stroke="#000" stroke-width="1.1"/>
<line x1="398.5" y1="666.8" x2="456.9" y2="631.7" stroke="#000" stroke-width="1.1"/>
<rect x="386.8" y="628.7" width="4.8" height="4.8" fill="#fff" stroke="#000" stroke-width="1.1"/>
<rect x="387.40000000000003" y="636.7" width="4.8" height="4.8" fill="#fff" stroke="#000" stroke-width="1.1"/>
<rect x="403.8" y="624.7" width="4.8" height="4.8" fill="#fff" stroke="#000" stroke-width="1.1"/>
<rect x="425.3" y="628.7" width="4.8" height="4.8" fill="#fff" stroke="#000" stroke-width="1.1"/>
<rect x="436.70000000000005" y="600.1" width="4.8" height="4.8" fill="#fff" stroke="#000" stroke-width="1.1"/>
<rect x="398.5" y="663.8" width="6" height="6" fill="#000" stroke="none" stroke-width="1"/>
<rect x="453.9" y="628.1" width="6" height="6" fill="#000" stroke="none" stroke-width="1"/>
<rect x="385.0" y="663.9" width="12.0" height="5.8" fill="#000" stroke="none" stroke-width="1"/>
<text x="438.1" y="586.0" font-size="10">R<tspan font-size="5.8" dy="-3.9">2</tspan><tspan dy="3.9" dx="-0.4"> =</tspan><tspan dx="-0.5"> 0.5855</tspan></text>
<text x="438.1" y="657.6" font-size="10">R<tspan font-size="5.8" dy="-3.9">2</tspan><tspan dy="3.9" dx="-0.4"> =</tspan><tspan dx="-0.5"> 0.9749</tspan></text>
<text x="115.1" y="712.3" font-size="12" text-anchor="middle" font-weight="normal" fill="#000" >TNF-α</text>
<line x1="54.5" y1="725.4" x2="54.5" y2="805.4" stroke="#f5f5f5" stroke-width="1"/>
<line x1="54.5" y1="805.4" x2="185" y2="805.4" stroke="#f5f5f5" stroke-width="1"/>
<text x="48.7" y="809.1999999999999" font-size="10" text-anchor="end" font-weight="normal" fill="#000" >0</text>
<text x="48.7" y="789.4499999999999" font-size="10" text-anchor="end" font-weight="normal" fill="#000" >10</text>
<text x="48.7" y="769.6999999999999" font-size="10" text-anchor="end" font-weight="normal" fill="#000" >20</text>
<text x="48.7" y="749.9499999999999" font-size="10" text-anchor="end" font-weight="normal" fill="#000" >30</text>
<text x="48.7" y="730.1999999999999" font-size="10" text-anchor="end" font-weight="normal" fill="#000" >40</text>
<text x="55.3" y="824.3" font-size="10" text-anchor="middle" font-weight="normal" fill="#000" >0</text>
<text x="95.7" y="824.3" font-size="10" text-anchor="middle" font-weight="normal" fill="#000" >500</text>
<text x="136.8" y="824.3" font-size="10" text-anchor="middle" font-weight="normal" fill="#000" >1000</text>
<text x="177.8" y="824.3" font-size="10" text-anchor="middle" font-weight="normal" fill="#000" >1500</text>
<line x1="63.8" y1="777.8" x2="104.8" y2="748.6" stroke="#000" stroke-width="1.1"/>
<line x1="75.8" y1="805.4" x2="147.8" y2="771.4" stroke="#000" stroke-width="1.1"/>
<rect x="61.4" y="775.4" width="4.8" height="4.8" fill="#fff" stroke="#000" stroke-width="1.1"/>
<rect x="69.8" y="763.1" width="4.8" height="4.8" fill="#fff" stroke="#000" stroke-width="1.1"/>
<rect x="77.8" y="767.4" width="4.8" height="4.8" fill="#fff" stroke="#000" stroke-width="1.1"/>
<rect x="88.19999999999999" y="767.4" width="4.8" height="4.8" fill="#fff" stroke="#000" stroke-width="1.1"/>
<rect x="102.39999999999999" y="738.5" width="4.8" height="4.8" fill="#fff" stroke="#000" stroke-width="1.1"/>
<rect x="144.8" y="766.8" width="6" height="6" fill="#000" stroke="none" stroke-width="1"/>
<rect x="65.0" y="802.7" width="10.799999999999997" height="5.8" fill="#000" stroke="none" stroke-width="1"/>
<text x="113.3" y="741.3" font-size="10">R<tspan font-size="5.8" dy="-3.9">2</tspan><tspan dy="3.9" dx="-0.4"> =</tspan><tspan dx="-0.5"> 0.7123</tspan></text>
<text x="131.1" y="793.6" font-size="10">R<tspan font-size="5.8" dy="-3.9">2</tspan><tspan dy="3.9" dx="-0.4"> =</tspan><tspan dx="-0.5"> 0.9959</tspan><tspan font-size="10.5" dy="-3.2" dx="0.9">*</tspan></text>
<text x="280.4" y="712.3" font-size="12" text-anchor="middle" font-weight="normal" fill="#000" >IFN-γ</text>
<line x1="220.8" y1="725.4" x2="220.8" y2="805.4" stroke="#f5f5f5" stroke-width="1"/>
<line x1="220.8" y1="805.4" x2="350" y2="805.4" stroke="#f5f5f5" stroke-width="1"/>
<text x="215.0" y="809.1999999999999" font-size="10" text-anchor="end" font-weight="normal" fill="#000" >0</text>
<text x="215.0" y="789.4499999999999" font-size="10" text-anchor="end" font-weight="normal" fill="#000" >10</text>
<text x="215.0" y="769.6999999999999" font-size="10" text-anchor="end" font-weight="normal" fill="#000" >20</text>
<text x="215.0" y="749.9499999999999" font-size="10" text-anchor="end" font-weight="normal" fill="#000" >30</text>
<text x="215.0" y="730.1999999999999" font-size="10" text-anchor="end" font-weight="normal" fill="#000" >40</text>
<text x="221.9" y="824.3" font-size="10" text-anchor="middle" font-weight="normal" fill="#000" >0</text>
<text x="281.9" y="824.3" font-size="10" text-anchor="middle" font-weight="normal" fill="#000" >10000</text>
<text x="341.3" y="824.3" font-size="10" text-anchor="middle" font-weight="normal" fill="#000" >20000</text>
<line x1="222.7" y1="773.8" x2="327.9" y2="754.5" stroke="#000" stroke-width="1.1"/>
<line x1="234.4" y1="804.6" x2="317.2" y2="770.2" stroke="#000" stroke-width="1.1"/>
<rect x="222.4" y="774.5" width="4.8" height="4.8" fill="#fff" stroke="#000" stroke-width="1.1"/>
<rect x="229.5" y="762.8000000000001" width="4.8" height="4.8" fill="#fff" stroke="#000" stroke-width="1.1"/>
<rect x="271.70000000000005" y="766.8000000000001" width="4.8" height="4.8" fill="#fff" stroke="#000" stroke-width="1.1"/>
<rect x="324.90000000000003" y="738.5" width="4.8" height="4.8" fill="#fff" stroke="#000" stroke-width="1.1"/>
<rect x="314.2" y="766.2" width="6" height="6" fill="#000" stroke="none" stroke-width="1"/>
<rect x="221.2" y="801.9" width="13.800000000000011" height="5.8" fill="#000" stroke="none" stroke-width="1"/>
<text x="259.2" y="744.4" font-size="10">R<tspan font-size="5.8" dy="-3.9">2</tspan><tspan dy="3.9" dx="-0.4"> =</tspan><tspan dx="-0.5"> 0.4289</tspan></text>
<text x="297.7" y="793.6" font-size="10">R<tspan font-size="5.8" dy="-3.9">2</tspan><tspan dy="3.9" dx="-0.4"> =</tspan><tspan dx="-0.5"> 0.9921</tspan><tspan font-size="10.5" dy="-3.2" dx="0.9">*</tspan></text>
<text x="446.2" y="712.3" font-size="12" text-anchor="middle" font-weight="normal" fill="#000" >IL-17</text>
<line x1="386.0" y1="725.4" x2="386.0" y2="805.4" stroke="#f5f5f5" stroke-width="1"/>
<line x1="386.0" y1="805.4" x2="520" y2="805.4" stroke="#f5f5f5" stroke-width="1"/>
<text x="380.2" y="809.1999999999999" font-size="10" text-anchor="end" font-weight="normal" fill="#000" >0</text>
<text x="380.2" y="789.4499999999999" font-size="10" text-anchor="end" font-weight="normal" fill="#000" >10</text>
<text x="380.2" y="769.6999999999999" font-size="10" text-anchor="end" font-weight="normal" fill="#000" >20</text>
<text x="380.2" y="749.9499999999999" font-size="10" text-anchor="end" font-weight="normal" fill="#000" >30</text>
<text x="380.2" y="730.1999999999999" font-size="10" text-anchor="end" font-weight="normal" fill="#000" >40</text>
<text x="387.2" y="824.3" font-size="10" text-anchor="middle" font-weight="normal" fill="#000" >0</text>
<text x="425.3" y="824.3" font-size="10" text-anchor="middle" font-weight="normal" fill="#000" >5000</text>
<text x="467.7" y="824.3" font-size="10" text-anchor="middle" font-weight="normal" fill="#000" >10000</text>
<text x="506.8" y="824.3" font-size="10" text-anchor="middle" font-weight="normal" fill="#000" >15000</text>
<line x1="387.7" y1="773.8" x2="480.0" y2="752.9" stroke="#000" stroke-width="1.1"/>
<line x1="398.5" y1="805.2" x2="480.6" y2="770.2" stroke="#000" stroke-width="1.1"/>
<rect x="385.3" y="766.8000000000001" width="4.8" height="4.8" fill="#fff" stroke="#000" stroke-width="1.1"/>
<rect x="385.90000000000003" y="774.5" width="4.8" height="4.8" fill="#fff" stroke="#000" stroke-width="1.1"/>
<rect x="419.1" y="762.8000000000001" width="4.8" height="4.8" fill="#fff" stroke="#000" stroke-width="1.1"/>
<rect x="463.1" y="766.8000000000001" width="4.8" height="4.8" fill="#fff" stroke="#000" stroke-width="1.1"/>
<rect x="476.70000000000005" y="738.2" width="4.8" height="4.8" fill="#fff" stroke="#000" stroke-width="1.1"/>
<rect x="384.7" y="801.6" width="6" height="6" fill="#000" stroke="none" stroke-width="1"/>
<rect x="395.5" y="801.6" width="6" height="6" fill="#000" stroke="none" stroke-width="1"/>
<rect x="477.6" y="766.2" width="6" height="6" fill="#000" stroke="none" stroke-width="1"/>
<text x="405.8" y="750.6" font-size="10">R<tspan font-size="5.8" dy="-3.9">2</tspan><tspan dy="3.9" dx="-0.4"> =</tspan><tspan dx="-0.5"> 0.5371</tspan></text>
<text x="462.1" y="793.6" font-size="10">R<tspan font-size="5.8" dy="-3.9">2</tspan><tspan dy="3.9" dx="-0.4"> =</tspan><tspan dx="-0.5"> 0.9887</tspan><tspan font-size="10.5" dy="-3.2" dx="0.9">*</tspan></text>
</svg>
</body></html>
